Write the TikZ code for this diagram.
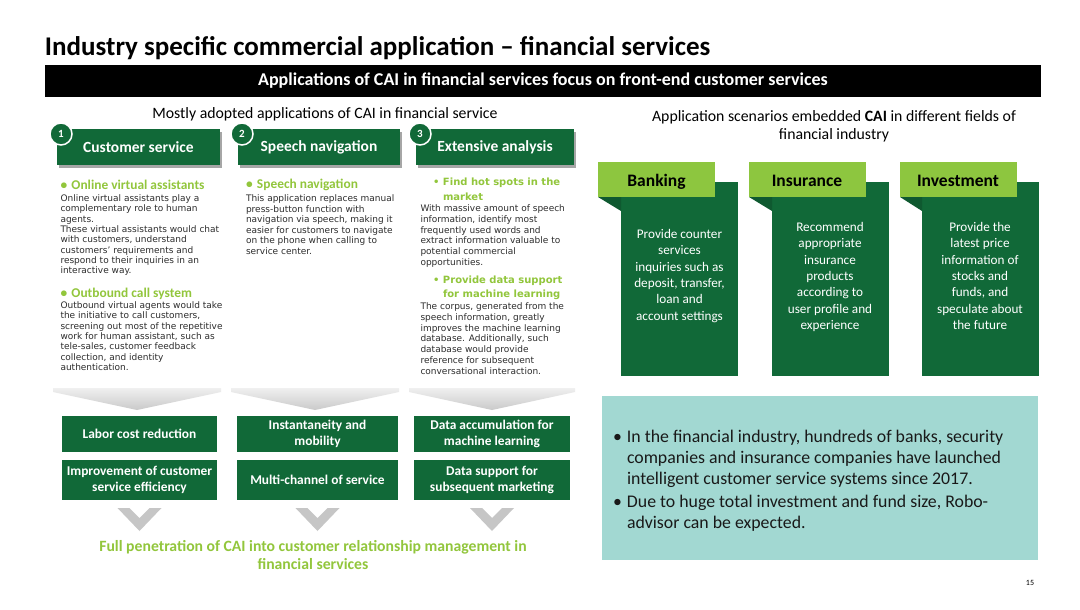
\documentclass[tikz,border=0pt]{standalone}
\usepackage{fontspec}
\setmainfont{Carlito}
\newfontfamily\verd{DejaVu Sans}
\usetikzlibrary{shadows}
\definecolor{dkg}{RGB}{17,105,56}
\definecolor{lg}{RGB}{141,198,63}
\definecolor{hg}{RGB}{146,198,60}
\definecolor{tealbox}{RGB}{162,216,210}
\definecolor{bodytxt}{RGB}{45,45,45}
\begin{document}
\begin{tikzpicture}[x=1pt,y=-1pt,
  every node/.style={inner sep=0pt, outer sep=0pt},
  hdrbox/.style={fill=dkg, text=white, font=\bfseries\fontsize{15.5}{18}\selectfont, minimum height=36pt,
     drop shadow={shadow xshift=1.5pt, shadow yshift=-2.5pt, opacity=0.35, fill=black}},
  numc/.style={circle, fill=dkg, draw=white, line width=1.5pt, minimum size=22pt, text=white, font=\bfseries\fontsize{11}{11}\selectfont},
  bhead/.style={anchor=base west, text=hg, font=\bfseries\fontsize{13.4}{15}\selectfont},
  vhead/.style={anchor=base west, align=left, text=hg, font=\verd\bfseries\fontsize{10}{14.8}\selectfont},
  bodytext/.style={anchor=base west, align=left, text=bodytxt, font=\verd\fontsize{9}{10.3}\selectfont},
  resbox/.style={fill=dkg, text=white, align=center, font=\bfseries\fontsize{13.4}{16}\selectfont},
  tabbox/.style={fill=lg, minimum width=117pt, minimum height=35pt},
  cardbody/.style={fill=dkg, minimum width=117pt, minimum height=194pt},
  cardtxt/.style={anchor=base, align=center, text=white, font=\fontsize{13.2}{16.3}\selectfont},
  tabtxt/.style={anchor=base, text=black, font=\bfseries\fontsize{17.5}{20}\selectfont},
  bigchev/.style={top color=gray!12, bottom color=gray!42, draw=none},
  smallchev/.style={fill=gray!45, draw=none},
  teallines/.style={anchor=base west, align=left, text=black!90, font=\fontsize{17.8}{21}\selectfont}
]
\fill[white] (0,0) rectangle (1080,610);
\useasboundingbox (0,0) rectangle (1080,610);

% title and bar
\node[anchor=base west, font=\bfseries\fontsize{27}{30}\selectfont] (title) at (45,56) {Industry specific commercial application – financial services};
\node[fill=black, minimum width=996pt, minimum height=32pt, text=white, font=\bfseries\fontsize{18}{20}\selectfont] (bar) at (543,81) {Applications of CAI in financial services focus on front-end customer services};

% left subtitle
\node[font=\fontsize{15.8}{18}\selectfont] (lsub) at (325,114) {Mostly adopted applications of CAI in financial service};

% header boxes
\node[hdrbox, minimum width=163pt] (h1) at (138.5,147) {Customer service};
\node[hdrbox, minimum width=162pt] (h2) at (319,147) {Speech navigation};
\node[hdrbox, minimum width=158pt] (h3) at (495,147) {Extensive analysis};
\node[numc] (n1) at (61,134) {1};
\node[numc] (n2) at (242,134) {2};
\node[numc] (n3) at (420,134) {3};

% column 1 (base anchor = baseline of last line)
\node[bhead] (c1h1) at (60.5,189) {\makebox[11pt][l]{•}Online virtual assistants};
\node[bodytext] (c1b1) at (60.5,273.6) {Online virtual assistants play a\\complementary role to human\\agents.\\These virtual assistants would chat\\with customers, understand\\customers’ requirements and\\respond to their inquiries in an\\interactive way.};
\node[bhead] (c1h2) at (60.5,297) {\makebox[11pt][l]{•}Outbound call system};
\node[bodytext] (c1b2) at (60.5,370.3) {Outbound virtual agents would take\\the initiative to call customers,\\screening out most of the repetitive\\work for human assistant, such as\\tele-sales, customer feedback\\collection, and identity\\authentication.};

% column 2
\node[bhead] (c2h1) at (246,188) {\makebox[11pt][l]{•}Speech navigation};
\node[bodytext, font=\verd\fontsize{9}{10.5}\selectfont] (c2b1) at (246,254) {This application replaces manual\\press-button function with\\navigation via speech,  making it\\easier for customers to navigate\\on the phone when calling to\\service center.};

% column 3
\node[vhead] (c3h1) at (433,200.3) {\makebox[10pt][l]{•}Find hot spots in the\\\hspace*{10pt}market};
\node[bodytext, font=\verd\fontsize{9}{10.8}\selectfont] (c3b1) at (420.5,265.5) {With massive amount of speech\\information, identify most\\frequently used words and\\extract information valuable to\\potential commercial\\opportunities.};
\node[vhead, font=\verd\bfseries\fontsize{10}{14.3}\selectfont] (c3h2) at (433,297.8) {\makebox[10pt][l]{•}Provide data support\\\hspace*{10pt}for machine learning};
\node[bodytext, font=\verd\fontsize{9}{10.8}\selectfont] (c3b2) at (420.5,374.3) {The corpus, generated from the\\speech information, greatly\\improves the machine learning\\database. Additionally, such\\database would provide\\reference for subsequent\\conversational interaction.};

% big chevrons
\path[bigchev] (53,388) -- (221,388) -- (221,392) -- (137,410) -- (53,392) -- cycle;
\path[bigchev] (231,388) -- (399,388) -- (399,392) -- (315,410) -- (231,392) -- cycle;
\path[bigchev] (409,388) -- (575,388) -- (575,392) -- (492,410) -- (409,392) -- cycle;

% result boxes
\node[resbox, minimum width=155pt, minimum height=36pt] (r11) at (139.5,434) {Labor cost reduction};
\node[resbox, minimum width=155pt, minimum height=40pt] (r12) at (139.5,480) {Improvement of customer\\service efficiency};
\node[resbox, minimum width=161pt, minimum height=36pt] (r21) at (317.5,434) {Instantaneity and\\mobility};
\node[resbox, minimum width=161pt, minimum height=40pt] (r22) at (317.5,480) {Multi-channel of service};
\node[resbox, minimum width=156pt, minimum height=36pt] (r31) at (492,434) {Data accumulation for\\machine learning};
\node[resbox, minimum width=156pt, minimum height=40pt] (r32) at (492,480) {Data support for\\subsequent marketing};

% small chevrons
\foreach \cx in {139.5,317.5,492}{
  \path[smallchev] (\cx-22,508) -- (\cx-10,508) -- (\cx,518) -- (\cx+10,508) -- (\cx+22,508) -- (\cx,531) -- cycle;
}

\node[align=center, text=hg, font=\bfseries\fontsize{15.7}{18}\selectfont] (full) at (313,555) {Full penetration of CAI into customer relationship management in\\financial services};

% right subtitle
\node[align=center, font=\fontsize{15.8}{18}\selectfont] (rsub) at (834,126) {Application scenarios embedded \textbf{CAI} in different fields of\\financial industry};

% cards
\node[cardbody] (b1) at (679.5,279) {};
\node[cardbody] (b2) at (830,279) {};
\node[cardbody] (b3) at (980,279) {};
\node[tabbox] (t1) at (656.5,179.5) {};
\node[tabbox] (t2) at (807,179.5) {};
\node[tabbox] (t3) at (958,179.5) {};
\fill[dkg!85!black] (598,197) -- (621,197) -- (621,211) -- cycle;
\fill[dkg!85!black] (749,197) -- (772,197) -- (772,211) -- cycle;
\fill[dkg!85!black] (900,197) -- (922,197) -- (922,211) -- cycle;
\node[tabtxt] (t1t) at (656.5,186.5) {Banking};
\node[tabtxt] (t2t) at (807,186.5) {Insurance};
\node[tabtxt] (t3t) at (958,186.5) {Investment};
\node[cardtxt] (b1t) at (679.5,320) {Provide counter\\services\\inquiries such as\\deposit, transfer,\\loan and\\account settings};
\node[cardtxt] (b2t) at (830,329.3) {Recommend\\appropriate\\insurance\\products\\according to\\user profile and\\experience};
\node[cardtxt] (b3t) at (980,329.3) {Provide the\\latest price\\information of\\stocks and\\funds, and\\speculate about\\the future};

% teal box
\node[fill=tealbox, minimum width=436pt, minimum height=164pt] (tb) at (820,478) {};
\node[teallines] (tb1) at (613,484) {\makebox[14pt][l]{•}In the financial industry, hundreds of banks, security\\\hspace*{14pt}companies and insurance companies have launched\\\hspace*{14pt}intelligent customer service systems since 2017.};
\node[teallines] (tb2) at (613,528) {\makebox[14pt][l]{•}Due to huge total investment and fund size, Robo-\\\hspace*{14pt}advisor can be expected.};

\node[font=\fontsize{8}{8}\selectfont] (pg) at (1030,583) {15};
\end{tikzpicture}
\end{document}
